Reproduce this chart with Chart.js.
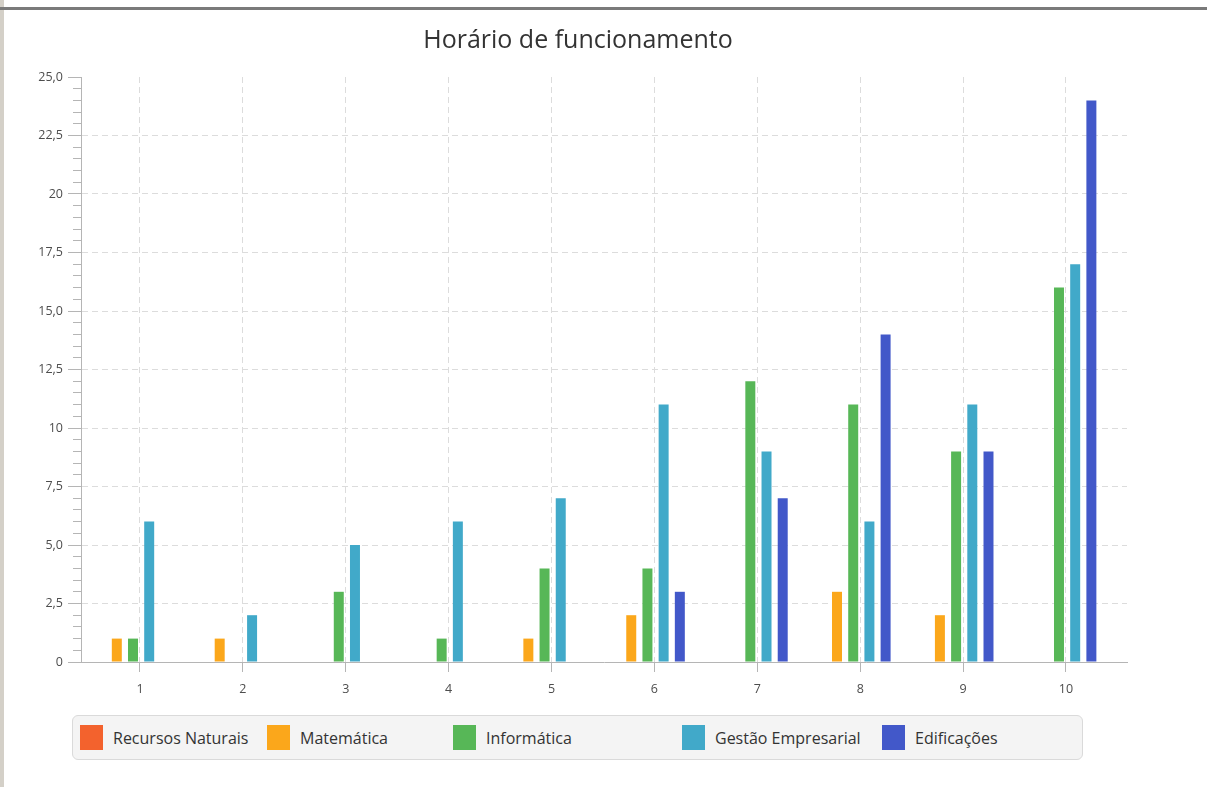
<!DOCTYPE html>
<html>
<head>
<meta charset="utf-8">
<title>Horário de funcionamento</title>
<script src="https://cdn.jsdelivr.net/npm/chart.js@4.4.1/dist/chart.umd.min.js"></script>
<style>
  html, body { margin: 0; padding: 0; background: #fff; }
  body { width: 1207px; height: 787px; position: relative; overflow: hidden; font-family: "Open Sans", sans-serif; }
  #topline { position: absolute; left: 0; top: 7px; width: 1207px; height: 3px; background: #7a7a7a; }
  #leftstrip { position: absolute; left: 0; top: 0; width: 4px; height: 787px; background: #d4d0c8; }
  #wrap { position: absolute; left: 29px; top: 0; width: 1121px; height: 702px; }
  #legend {
    position: absolute; left: 72px; top: 715px; width: 1011px; height: 45px;
    box-sizing: border-box; padding-left: 7px;
    background: #f4f4f4; border: 1px solid #dadada; border-radius: 6px;
    display: grid; grid-template-columns: 187px 186px 229px 200px auto; align-items: center;
  }
  #legend .item { display: flex; align-items: center; }
  #legend .sw { width: 23px; height: 25px; margin-right: 10px; }
  #legend .txt { font-size: 16px; color: #333; white-space: nowrap; }
</style>
</head>
<body>
<div id="leftstrip"></div>
<div id="topline"></div>
<div id="wrap"><canvas id="myChart"></canvas></div>
<div id="legend"></div>
<script>
// categorias do eixo x
const categories = ['1', '2', '3', '4', '5', '6', '7', '8', '9', '10'];

const seriesNames = ['Recursos Naturais', 'Matemática', 'Informática', 'Gestão Empresarial', 'Edificações'];

const recursosNaturais = [0, 0, 0, 0, 0, 0, 0, 0, 0, 0];
const matematica       = [1, 1, 0, 0, 1, 2, 0, 3, 2, 0];
const informatica      = [1, 0, 3, 1, 4, 4, 12, 11, 9, 16];
const gestao           = [6, 2, 5, 6, 7, 11, 9, 6, 11, 17];
const edificacoes      = [0, 0, 0, 0, 0, 3, 7, 14, 9, 24];

const yTickLabels = ['0', '2,5', '5,0', '7,5', '10', '12,5', '15,0', '17,5', '20', '22,5', '25,0'];

const seriesColors = ['#f3622d', '#fba71b', '#57b757', '#41a9c9', '#4258c9'];

const seriesValues = [recursosNaturais, matematica, informatica, gestao, edificacoes];

const isMajor = (v) => Math.abs(v / 2.5 - Math.round(v / 2.5)) < 1e-6;
const tickFont = { family: 'Open Sans', size: 12.5 };

const data = {
  labels: categories,
  datasets: seriesNames.map((name, i) => ({
    label: name,
    data: seriesValues[i],
    backgroundColor: seriesColors[i],
    borderWidth: 0,
    categoryPercentage: 0.787,
    barPercentage: 0.617,
  })),
};

const config = {
  type: 'bar',
  data: data,
  options: {
    responsive: true,
    maintainAspectRatio: false,
    animation: false,
    layout: { padding: { left: 0, right: 23, top: 0, bottom: 0 } },
    plugins: {
      legend: { display: false },
      tooltip: { enabled: false },
      title: {
        display: true,
        text: 'Horário de funcionamento',
        color: '#333',
        font: { family: 'Open Sans', size: 25, weight: 'normal' },
        padding: { top: 26, bottom: 21 },
      },
    },
    scales: {
      // eixo das barras (oculto)
      x: {
        type: 'linear',
        display: false,
        offset: false,
        min: 0.4946,
        max: 10.661,
        grid: { offset: false },
        ticks: { stepSize: 1, includeBounds: false },
      },
      // eixo visível com as categorias
      x2: {
        type: 'linear',
        position: 'bottom',
        offset: false,
        min: 0.4266,
        max: 10.593,
        afterFit: (s) => { s.height = 40; },
        ticks: {
          stepSize: 1,
          includeBounds: false,
          padding: 10,
          color: '#4d4d4d',
          font: tickFont,
          callback: (v) => categories[v - 1],
        },
        grid: { color: '#dcdcdc', tickColor: '#b5b5b5', tickLength: 10, offset: false },
        border: { display: true, color: '#b5b5b5', dash: [6, 4] },
      },
      y: {
        min: 0,
        max: 25,
        afterFit: (s) => { s.width = 52; },
        ticks: {
          stepSize: 0.5,
          autoSkip: false,
          padding: 5,
          color: '#4d4d4d',
          font: tickFont,
          callback: (v) => isMajor(v) ? yTickLabels[Math.round(v / 2.5)] : '',
        },
        grid: {
          color: (ctx) => {
            const v = ctx.tick ? ctx.tick.value : 0;
            return isMajor(v) && v > 0 && v < 25 ? '#dcdcdc' : 'rgba(0,0,0,0)';
          },
          tickColor: '#b5b5b5',
          tickLength: 13,
          tickBorderDash: (ctx) => (ctx.tick && isMajor(ctx.tick.value)) ? [] : [0, 5, 100],
        },
        border: { display: true, color: '#b5b5b5', dash: [6, 4] },
      },
    },
  },
};

var myChart = new Chart(document.getElementById('myChart'), config);

// legenda
const legend = document.getElementById('legend');
seriesNames.forEach((name, i) => {
  const item = document.createElement('div');
  item.className = 'item';
  item.innerHTML = '<span class="sw" style="background:' + seriesColors[i] + '"></span><span class="txt">' + name + '</span>';
  legend.appendChild(item);
});
</script>
</body>
</html>
